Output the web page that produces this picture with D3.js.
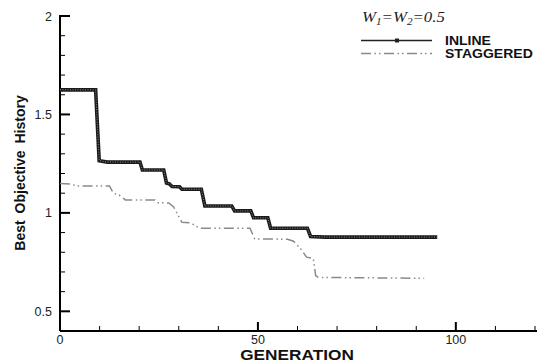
<!DOCTYPE html>
<html><head><meta charset="utf-8">
<script src="https://cdn.jsdelivr.net/npm/d3@7"></script>
<style>body{margin:0;background:#fff}svg{display:block}</style>
</head><body>
<svg id="c" width="537" height="363"></svg>
<script>
// ---- data ----
const inlineGen = [0, 9, 9.9, 12, 20.2, 20.8, 26.2, 26.9, 27.6, 28.3, 30.2, 30.8, 35.7, 36.6, 43.4, 44.1, 48.2, 48.9, 52.5, 53.2, 62.5, 63.3, 67, 95.3];
const inlineVal = [1.625, 1.625, 1.265, 1.258, 1.258, 1.218, 1.218, 1.152, 1.148, 1.134, 1.133, 1.12, 1.12, 1.035, 1.035, 1.01, 1.01, 0.975, 0.975, 0.922, 0.922, 0.88, 0.877, 0.877];
const staggGen = [0, 3, 4, 12.5, 13.5, 15, 16.5, 24, 24.6, 27.5, 28.7, 30.8, 33, 35.2, 48, 49.2, 57.5, 59, 60.8, 62.3, 64, 64.6, 65.3, 92];
const staggVal = [1.149, 1.146, 1.137, 1.137, 1.1, 1.09, 1.066, 1.066, 1.052, 1.05, 1.03, 0.952, 0.95, 0.922, 0.922, 0.868, 0.866, 0.856, 0.817, 0.775, 0.768, 0.68, 0.672, 0.668];
const seriesNames = ["INLINE", "STAGGERED"];
const xMajor = [0, 50, 100];
const xMinor = [10, 20, 30, 40, 60, 70, 80, 90, 110, 120];
const yMajor = [0.5, 1, 1.5, 2];
const yMinor = [0.6, 0.7, 0.8, 0.9, 1.1, 1.2, 1.3, 1.4, 1.6, 1.7, 1.8, 1.9];

const svg = d3.select("#c");
const x = d3.scaleLinear().domain([0, 120]).range([60, 535]);
const y = d3.scaleLinear().domain([0.4, 2]).range([331, 16]);
const font = "'Liberation Sans', Arial, sans-serif";

// axes lines
svg.append("line").attr("x1", x(0)).attr("x2", 537).attr("y1", y(0.4)).attr("y2", y(0.4))
  .attr("stroke", "#000").attr("stroke-width", 2);
svg.append("line").attr("x1", x(0)).attr("x2", x(0)).attr("y1", y(0.4)).attr("y2", y(2) - 1)
  .attr("stroke", "#000").attr("stroke-width", 2);

// y ticks (inward)
svg.selectAll(".ymaj").data(yMajor).enter().append("line")
  .attr("x1", x(0)).attr("x2", x(0) + 10).attr("y1", d => y(d)).attr("y2", d => y(d))
  .attr("stroke", "#000").attr("stroke-width", 2);
svg.selectAll(".ymin").data(yMinor).enter().append("line")
  .attr("x1", x(0)).attr("x2", x(0) + 5).attr("y1", d => y(d)).attr("y2", d => y(d))
  .attr("stroke", "#000").attr("stroke-width", 1);
svg.selectAll(".ylab").data(yMajor).enter().append("text")
  .attr("x", 52).attr("y", d => y(d) + 4.5).attr("text-anchor", "end")
  .attr("font-family", font).attr("font-size", 12.5).attr("fill", "#222")
  .text(d => d3.format("")(d));

// x ticks (inward)
svg.selectAll(".xmaj").data(xMajor).enter().append("line")
  .attr("x1", d => x(d)).attr("x2", d => x(d)).attr("y1", y(0.4)).attr("y2", y(0.4) - 9)
  .attr("stroke", "#000").attr("stroke-width", 2);
svg.selectAll(".xmin").data(xMinor).enter().append("line")
  .attr("x1", d => x(d)).attr("x2", d => x(d)).attr("y1", y(0.4)).attr("y2", y(0.4) - 5)
  .attr("stroke", "#000").attr("stroke-width", 1);
svg.selectAll(".xlab").data(xMajor).enter().append("text")
  .attr("x", d => x(d)).attr("y", 343.5).attr("text-anchor", "middle")
  .attr("font-family", font).attr("font-size", 12.5).attr("fill", "#222")
  .text(d => d);

// axis titles
svg.append("text").attr("transform", "translate(297,359.5) scale(1.15,1)")
  .attr("text-anchor", "middle").attr("font-family", font).attr("font-weight", "bold")
  .attr("font-size", 15).attr("fill", "#111").text("GENERATION");
svg.append("text").attr("transform", "translate(25,173) rotate(-90)")
  .attr("text-anchor", "middle").attr("font-family", font).attr("font-weight", "bold")
  .attr("font-size", 14).attr("fill", "#111").attr("word-spacing", 3)
  .text("Best Objective History");

// lines
const line = d3.line().x(d => x(d[0])).y(d => y(d[1]));
const inlinePts = inlineGen.map((g, i) => [g, inlineVal[i]]);
const staggPts = staggGen.map((g, i) => [g, staggVal[i]]);

svg.append("path").attr("d", line(staggPts)).attr("fill", "none")
  .attr("stroke", "#8a8a8a").attr("stroke-width", 1.5)
  .attr("stroke-dasharray", "10,3.5,1.5,3,1.5,3.5");

svg.append("path").attr("d", line(inlinePts)).attr("fill", "none")
  .attr("stroke", "#1a1a1a").attr("stroke-width", 3.6).attr("stroke-linejoin", "miter");
svg.append("path").attr("d", line(inlinePts)).attr("fill", "none")
  .attr("stroke", "#8c8c8c").attr("stroke-width", 1).attr("stroke-dasharray", "1,1.5");

// legend
const lt = svg.append("text").attr("transform", "translate(362,22) scale(1.12,1)")
  .attr("font-family", "'Liberation Serif', 'Times New Roman', serif")
  .attr("font-style", "italic").attr("font-size", 15).attr("fill", "#222");
lt.append("tspan").text("W");
lt.append("tspan").attr("font-size", 10).attr("dy", 3).text("1");
lt.append("tspan").attr("dy", -3).text("=W");
lt.append("tspan").attr("font-size", 10).attr("dy", 3).text("2");
lt.append("tspan").attr("dy", -3).text("=0.5");

const legY = [40.5, 53.5];
svg.append("line").attr("x1", 361).attr("x2", 432).attr("y1", legY[0]).attr("y2", legY[0])
  .attr("stroke", "#222").attr("stroke-width", 1.4);
svg.append("rect").attr("x", 395).attr("y", legY[0] - 2).attr("width", 4).attr("height", 4).attr("fill", "#222");
svg.append("line").attr("x1", 361).attr("x2", 432).attr("y1", legY[1]).attr("y2", legY[1])
  .attr("stroke", "#8a8a8a").attr("stroke-width", 1.3)
  .attr("stroke-dasharray", "10,3.5,1.5,3,1.5,3.5");
svg.selectAll(".legt").data(seriesNames).enter().append("text")
  .attr("transform", (d, i) => `translate(445,${legY[i] + 4}) scale(1.17,1)`)
  .attr("font-family", font).attr("font-weight", "bold").attr("font-size", 12)
  .attr("fill", "#111").text(d => d);
</script>
</body></html>
